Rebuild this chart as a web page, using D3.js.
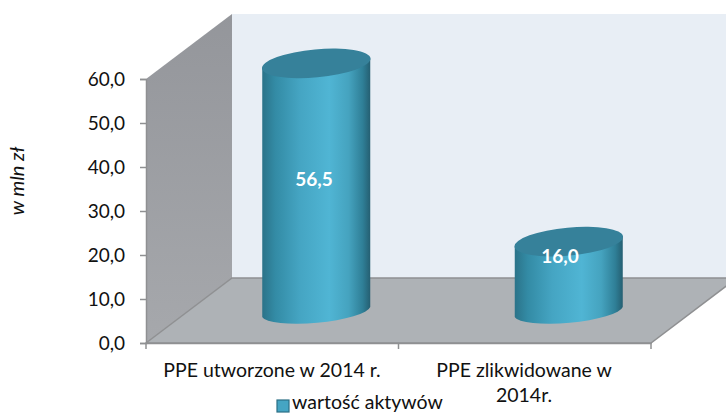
<!DOCTYPE html>
<html>
<head>
<meta charset="utf-8">
<script src="https://cdn.jsdelivr.net/npm/d3@7"></script>
<style>
html, body { margin: 0; padding: 0; background: #fff; overflow: hidden; }
text { font-family: Lato, "Open Sans", sans-serif; fill: #111; }
</style>
</head>
<body>
<div id="chart"></div>
<script>
const categories = ["PPE utworzone w 2014 r.", "PPE zlikwidowane w 2014r."];
const values = [56.5, 16.0];
const yTicks = [0, 10, 20, 30, 40, 50, 60];
const seriesName = "wartość aktywów";
const yTitle = "w mln zł";

const createChart = () => {
    const w = 726, h = 414;
    const svg = d3.select("#chart").append("svg").attr("width", w).attr("height", h);
    const x0 = 146, x1 = 651, y0 = 343, y1 = 79;
    const dx = 86, dy = -65; // depth of the 3d box
    const comma = v => v.toFixed(1).replace(".", ",");

    const yScale = d3.scaleLinear().domain([0, 60]).range([y0, y1]);
    const xScale = d3.scaleBand().domain(categories).range([x0, x1]);

    const defs = svg.append("defs");
    const grad = defs.append("linearGradient").attr("id", "cyl");
    [[0, "#2b7389"], [0.12, "#338ba5"], [0.35, "#45a5c3"], [0.62, "#50b5d4"], [0.8, "#45a3bf"], [0.93, "#2f7f97"], [1, "#255f72"]]
        .forEach(s => grad.append("stop").attr("offset", s[0]).attr("stop-color", s[1]));
    const wallGrad = defs.append("linearGradient").attr("id", "wall").attr("x1", 0).attr("y1", 0).attr("x2", 0).attr("y2", 1);
    wallGrad.append("stop").attr("offset", 0).attr("stop-color", "#94969b");
    wallGrad.append("stop").attr("offset", 1).attr("stop-color", "#a6a8ac");

    // walls and floor
    const poly = pts => pts.map(p => p.join(",")).join(" ");
    svg.append("polygon").attr("fill", "#e8eef5")
        .attr("points", poly([[x0 + dx, y1 + dy], [x1 + dx, y1 + dy], [x1 + dx, y0 + dy], [x0 + dx, y0 + dy]]));
    svg.append("polygon").attr("fill", "url(#wall)")
        .attr("points", poly([[x0, y1], [x0 + dx, y1 + dy], [x0 + dx, y0 + dy], [x0, y0]]));
    svg.append("polygon").attr("fill", "#aeb2b6").attr("stroke", "#8f9092").attr("stroke-width", 1.5)
        .attr("points", poly([[x0, y0], [x0 + dx, y0 + dy], [x1 + dx, y0 + dy], [x1, y0]]));

    // axes
    const yAxis = svg.append("g").attr("transform", `translate(${x0},0)`)
        .call(d3.axisLeft(yScale).tickValues(yTicks).tickFormat(comma).tickSize(6).tickPadding(15));
    const xAxis = svg.append("g").attr("transform", `translate(0,${y0})`)
        .call(d3.axisBottom(xScale).tickValues([]).tickSize(0));
    [yAxis, xAxis].forEach(a => {
        a.select(".domain").attr("stroke", "#8f9092").attr("stroke-width", 1.5);
        a.selectAll(".tick line").attr("stroke", "#8f9092").attr("stroke-width", 1.5);
    });
    yAxis.selectAll("text").style("font-size", "19px").attr("fill", "#111");
    svg.append("g").selectAll("line").data([x0, xScale(categories[1]), x1]).join("line")
        .attr("x1", d => d).attr("x2", d => d).attr("y1", y0).attr("y2", y0 + 6)
        .attr("stroke", "#8f9092").attr("stroke-width", 1.5);

    // cylinders
    const rx = 54, ry = 14, tilt = -5.3;
    const cx = d => xScale(d) + xScale.bandwidth() / 2 + 44;
    const shift = -31;
    const bars = svg.append("g").selectAll("g").data(categories).join("g");
    const slope = Math.tan(tilt * Math.PI / 180) * rx;
    bars.append("path")
        .attr("fill", "url(#cyl)")
        .attr("d", (d, i) => {
            const c = cx(d), top = yScale(values[i]) + shift, bot = y0 + shift;
            return `M${c - rx},${top - slope} L${c + rx},${top + slope} L${c + rx},${bot + slope}` +
                ` A${rx + 0.5},${ry - 2} ${tilt} 0 1 ${c - rx},${bot - slope} Z`;
        });
    bars.append("ellipse")
        .attr("fill", "#36819a")
        .attr("rx", rx + 0.5).attr("ry", ry)
        .attr("transform", (d, i) => `translate(${cx(d)},${yScale(values[i]) + shift}) rotate(${tilt})`);

    // value labels
    const labelY = [181, 258], labelX = [314, 560];
    svg.append("g").selectAll("text").data(values).join("text")
        .attr("x", (d, i) => labelX[i]).attr("y", (d, i) => labelY[i])
        .attr("text-anchor", "middle").attr("dominant-baseline", "middle")
        .style("fill", "#fff").style("font-weight", "bold").style("font-size", "19px")
        .text(comma);

    // category labels
    svg.append("text").attr("x", 272).attr("y", 377).attr("text-anchor", "middle")
        .style("font-size", "19.5px").text(categories[0]);
    svg.append("text").attr("x", 524).attr("y", 377).attr("text-anchor", "middle")
        .style("font-size", "19.5px").text("PPE zlikwidowane w");
    svg.append("text").attr("x", 524).attr("y", 402).attr("text-anchor", "middle")
        .style("font-size", "19.5px").text("2014r.");

    // y title
    svg.append("text").attr("transform", "translate(24,181) rotate(-90)").attr("text-anchor", "middle")
        .style("font-size", "20px").style("font-style", "italic").text(yTitle);

    // legend
    svg.append("rect").attr("x", 277).attr("y", 400).attr("width", 12).attr("height", 12)
        .attr("fill", "#45a5c3").attr("stroke", "#2b6f85").attr("stroke-width", 1.2);
    svg.append("text").attr("x", 292).attr("y", 409).style("font-size", "19.5px").text(seriesName);
};
createChart();
</script>
</body>
</html>
